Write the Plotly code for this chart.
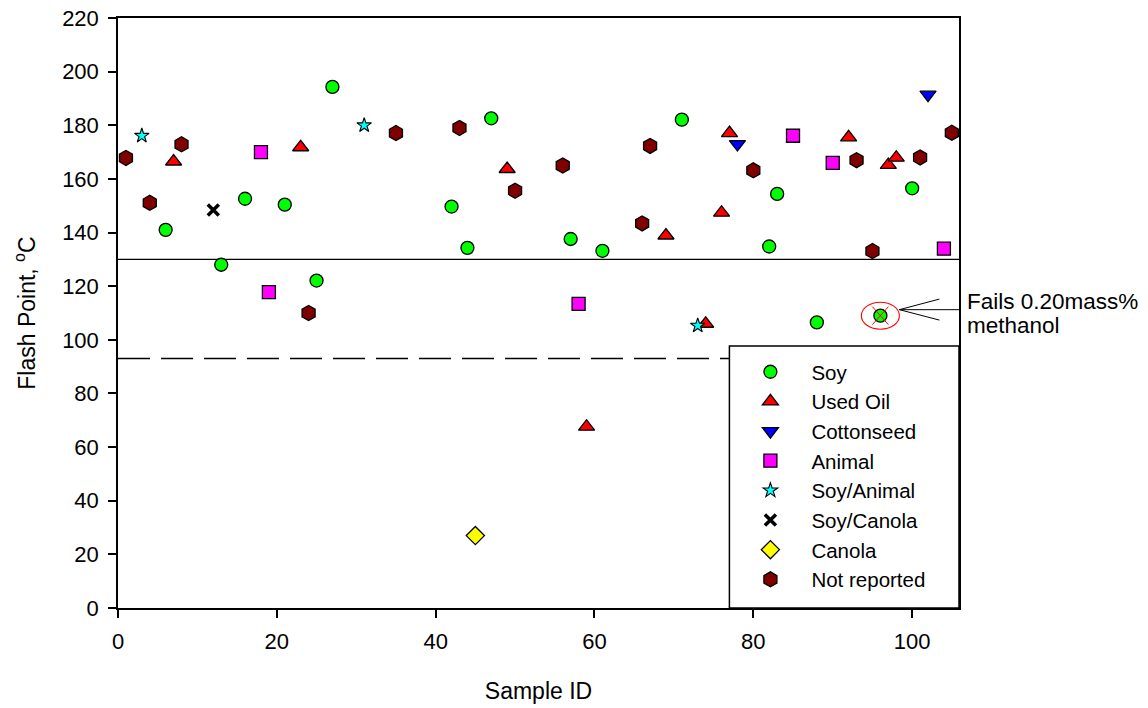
import plotly.graph_objects as go

# ---------------- data ----------------
soy_id = [6, 13, 16, 21, 25, 27, 42, 44, 47, 57, 61, 71, 82, 83, 88, 96, 100]
soy_fp = [141, 128, 152.6, 150.4, 122.1, 194.3, 149.7, 134.3, 182.6, 137.6, 133.2, 182.1, 134.8, 154.4, 106.5, 109, 156.5]

used_id = [7, 23, 49, 59, 69, 74, 76, 77, 92, 97, 98]
used_fp = [166.5, 171.8, 163.7, 67.6, 138.9, 106, 147.4, 177.1, 175.5, 165.2, 167.9]

cotton_id = [78, 102]
cotton_fp = [173, 191.4]

animal_id = [18, 19, 58, 85, 90, 104]
animal_fp = [170, 117.8, 113.4, 176.1, 166, 134]

soyanimal_id = [3, 31, 73]
soyanimal_fp = [176.1, 180, 105.3]

soycanola_id = [12]
soycanola_fp = [148.4]

canola_id = [45]
canola_fp = [27]

notrep_id = [1, 4, 8, 24, 35, 43, 50, 56, 66, 67, 80, 93, 95, 101, 105]
notrep_fp = [167.8, 151.1, 172.9, 110, 177.1, 179, 155.6, 165, 143.4, 172.3, 163.2, 167, 133.1, 168, 177.2]

spec_min = 130          # solid reference line
spec_low = 93           # dashed reference line
flag_id, flag_fp = 96, 109
flag_text = ["Fails 0.20mass%", "methanol"]

x_ticks = [0, 20, 40, 60, 80, 100]
y_ticks = list(range(0, 221, 20))

FONT = "Arial, Liberation Sans, sans-serif"

fig = go.Figure()

series = [
    ("Soy", soy_id, soy_fp, dict(symbol="circle", size=13, color="#00ff00"), 1.3),
    ("Used Oil", used_id, used_fp, dict(symbol="triangle-up", size=14, color="#ff0000"), 1.3),
    ("Cottonseed", cotton_id, cotton_fp, dict(symbol="triangle-down", size=14, color="#0000ff"), 1.3),
    ("Animal", animal_id, animal_fp, dict(symbol="square", size=13, color="#ff00ff"), 1.3),
    ("Soy/Animal", soyanimal_id, soyanimal_fp, dict(symbol="star", size=11, color="#00ffff"), 1.1),
    ("Soy/Canola", soycanola_id, soycanola_fp, dict(symbol="x-thin", size=11, color="black"), 3.5),
    ("Canola", canola_id, canola_fp, dict(symbol="diamond", size=14, color="#ffff00"), 1.3),
    ("Not reported", notrep_id, notrep_fp, dict(symbol="hexagon", size=15, color="#800000"), 1.3),
]
for name, xs, ys, m, lw in series:
    fig.add_trace(go.Scatter(
        x=xs, y=ys, mode="markers", name=name,
        marker=dict(**m, line=dict(color="black", width=lw)),
    ))

shapes = [
    dict(type="line", xref="paper", yref="y", x0=0, x1=1, y0=spec_min, y1=spec_min,
         line=dict(color="black", width=1.3), layer="below"),
    dict(type="line", xref="paper", yref="y", x0=0, x1=1, y0=spec_low, y1=spec_low,
         line=dict(color="black", width=1.5, dash="32px,11px"), layer="below"),
    # legend frame
    dict(type="rect", xref="paper", yref="paper", x0=0.727, x1=1, y0=0, y1=0.444,
         fillcolor="white", line=dict(color="black", width=1.5), layer="below"),
    # ellipse around flagged point
    dict(type="circle", xref="x", yref="y", xsizemode="pixel", ysizemode="pixel",
         xanchor=flag_id, yanchor=flag_fp, x0=-19, x1=19, y0=-13.5, y1=13.5,
         line=dict(color="red", width=1.1)),
    dict(type="line", xref="x", yref="y", xsizemode="pixel", ysizemode="pixel",
         xanchor=flag_id, yanchor=flag_fp, x0=-8, x1=8, y0=-9, y1=9,
         line=dict(color="red", width=1)),
    dict(type="line", xref="x", yref="y", xsizemode="pixel", ysizemode="pixel",
         xanchor=flag_id, yanchor=flag_fp, x0=-8, x1=8, y0=9, y1=-9,
         line=dict(color="red", width=1)),
    # callout lines
    dict(type="line", xref="x", yref="y", xsizemode="pixel", ysizemode="pixel",
         xanchor=flag_id, yanchor=flag_fp, x0=19, x1=59, y0=6, y1=16.6,
         line=dict(color="black", width=1)),
    dict(type="line", xref="x", yref="y", xsizemode="pixel", ysizemode="pixel",
         xanchor=flag_id, yanchor=flag_fp, x0=19, x1=59, y0=6, y1=-4.4,
         line=dict(color="black", width=1)),
    dict(type="line", xref="x", yref="y", xsizemode="pixel", ysizemode="pixel",
         xanchor=flag_id, yanchor=flag_fp, x0=19, x1=79, y0=6, y1=6,
         line=dict(color="black", width=1)),
]

annotations = [
    dict(text=flag_text[0], xref="paper", yref="paper", x=1.0068, y=(608 - 301.7) / 589.7,
         xanchor="left", yanchor="middle", showarrow=False, font=dict(size=22.5, color="black", family=FONT)),
    dict(text=flag_text[1], xref="paper", yref="paper", x=1.0068, y=(608 - 325.8) / 589.7,
         xanchor="left", yanchor="middle", showarrow=False, font=dict(size=22.5, color="black", family=FONT)),
]

axis_common = dict(
    showline=True, linecolor="black", linewidth=1.5, mirror=True,
    ticks="outside", ticklen=8, tickwidth=1.5, tickcolor="black",
    showgrid=False, zeroline=False, automargin=False,
    tickfont=dict(size=22, color="black", family=FONT),
)

fig.update_layout(
    width=1148, height=708,
    margin=dict(l=118, r=189, t=18, b=100),
    paper_bgcolor="white", plot_bgcolor="white",
    font=dict(family=FONT, color="black"),
    xaxis=dict(**axis_common, range=[0, 105.9], tickvals=x_ticks, ticklabelstandoff=5,
               title=dict(text="Sample ID", font=dict(size=23), standoff=30)),
    yaxis=dict(**axis_common, range=[0, 220], tickvals=y_ticks, ticklabelstandoff=5,
               title=dict(text="Flash Point, <sup>o</sup>C", font=dict(size=23), standoff=20)),
    legend=dict(x=0.727, y=0.434, xanchor="left", yanchor="top",
                bgcolor="rgba(0,0,0,0)", borderwidth=0, itemwidth=72,
                font=dict(size=20.5, color="black", family=FONT)),
    shapes=shapes,
    annotations=annotations,
    showlegend=True,
)

fig.write_html("out.html", config={"displayModeBar": False},
               post_script="document.body.style.margin='0';document.body.style.overflow='hidden';")
